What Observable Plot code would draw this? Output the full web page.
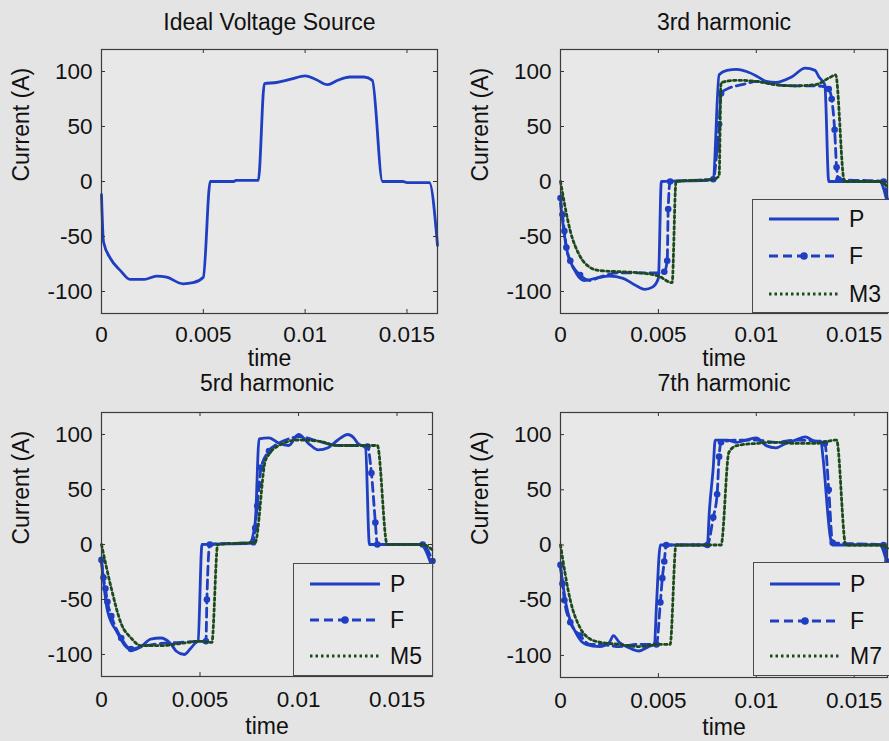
<!DOCTYPE html>
<html>
<head>
<meta charset="utf-8">
<script src="https://cdn.jsdelivr.net/npm/d3@7"></script>
<script src="https://cdn.jsdelivr.net/npm/@observablehq/plot@0.6"></script>
<style>
  html, body { margin: 0; padding: 0; background: #e4e4e4; }
  #fig { position: relative; width: 889px; height: 741px; overflow: hidden; background: #e4e4e4;
         font-family: "Liberation Sans", Arial, Helvetica, sans-serif; }
  .panel { position: absolute; }
  .legend { position: absolute; border: 1px solid #4a4a4a; background: #e8e8e8; box-sizing: border-box; }
  .legend .row { position: absolute; left: 0; height: 26px; }
  .legend .row span { position: absolute; font-size: 23px; color: #111; line-height: 26px; top: 0; }
</style>
</head>
<body>
<div id="fig"></div>
<script>
// ---------- tick labels ----------
const xTicks = [0, 0.005, 0.01, 0.015];
const yTicks = [-100, -50, 0, 50, 100];
const yDomain = [-120, 120];

// ---------- titles ----------
const titles = ["Ideal Voltage Source", "3rd harmonic", "5rd harmonic", "7th harmonic"];
const seriesNames = [["P", "F", "M3"], ["P", "F", "M5"], ["P", "F", "M7"]];

// ---------- data: [time, current] ----------
const ideal = [[0,-12],[0.0001,-55],[0.00044,-70],[0.00093,-81],[0.0014,-89],[0.0021,-89],[0.0027,-86],[0.0032,-87],[0.0040,-93],[0.0045,-92],[0.0050,-87],[0.00534,0],[0.0065,0],[0.0066,1],[0.0077,1],[0.0080,89],[0.0086,90],[0.0093,93],[0.0100,96],[0.0105,93],[0.0111,88],[0.0116,92],[0.0122,95],[0.0129,95],[0.0133,92],[0.0138,0],[0.0148,0],[0.0150,-1],[0.0161,-1],[0.0165,-58]];

const h3_P = [[0,-20],[0.0003,-60],[0.0007,-80],[0.0012,-90],[0.0018,-88],[0.0025,-86],[0.0032,-88],[0.0038,-94],[0.0043,-98],[0.0047,-96],[0.0050,-88],[0.00515,0],[0.0075,1],[0.0078,3],[0.0081,97],[0.0085,101],[0.009,102],[0.0095,100],[0.0100,96],[0.0105,91],[0.011,90],[0.0118,95],[0.0125,103],[0.013,101],[0.0132,95],[0.0135,88],[0.0137,0],[0.0163,0],[0.0167,-20]];
const h3_F = [[0,-15],[0.0001,-30],[0.0002,-45],[0.0003,-60],[0.0005,-72],[0.001,-85],[0.0015,-90],[0.002,-87],[0.003,-83],[0.004,-83],[0.005,-83],[0.0053,-82],[0.00545,-72],[0.0055,-25],[0.0056,0],[0.0078,2],[0.0080,30],[0.0081,52],[0.0082,80],[0.0085,84],[0.009,87],[0.0095,89],[0.01,91],[0.0105,90],[0.011,88],[0.012,87],[0.013,87],[0.0135,86],[0.0137,84],[0.01385,75],[0.0140,47],[0.0141,13],[0.0142,2],[0.0165,0],[0.0167,-18]];
const h3_M = [[0,0],[0.0005,-45],[0.001,-68],[0.0015,-78],[0.002,-81],[0.003,-82],[0.004,-83],[0.005,-86],[0.0057,-92],[0.0059,0],[0.0078,2],[0.0081,5],[0.0082,90],[0.009,92],[0.010,91],[0.011,88],[0.012,87],[0.013,88],[0.0138,95],[0.01405,97],[0.0145,0],[0.0163,0],[0.0167,-5]];

const h5_P = [[0,-15],[0.0003,-60],[0.0008,-80],[0.0012,-92],[0.0016,-96],[0.002,-93],[0.0025,-86],[0.003,-85],[0.0035,-90],[0.0038,-97],[0.0042,-100],[0.0045,-95],[0.0048,-89],[0.0049,-88],[0.0051,0],[0.0075,1],[0.0078,20],[0.0080,96],[0.0085,97],[0.009,92],[0.0095,90],[0.01,100],[0.0105,92],[0.011,86],[0.0115,88],[0.012,95],[0.0125,100],[0.0128,97],[0.013,92],[0.0134,88],[0.0136,0],[0.0162,0],[0.01677,-20]];
const h5_F = [[0,-14],[0.0001,-30],[0.0002,-40],[0.0003,-52],[0.0005,-65],[0.001,-85],[0.0015,-95],[0.002,-93],[0.003,-90],[0.004,-89],[0.005,-88],[0.0053,-88],[0.00535,-50],[0.0055,0],[0.0077,2],[0.0078,15],[0.0079,35],[0.008,54],[0.0081,70],[0.0085,85],[0.009,92],[0.0095,96],[0.01,98],[0.011,94],[0.012,90],[0.013,90],[0.0135,89],[0.0137,65],[0.0139,20],[0.014,0],[0.0163,0],[0.0168,-15]];
const h5_M = [[0,0],[0.0005,-40],[0.001,-72],[0.0015,-85],[0.002,-92],[0.003,-92],[0.004,-90],[0.005,-88],[0.0056,-89],[0.0059,0],[0.0078,2],[0.0083,75],[0.0085,82],[0.009,90],[0.01,95],[0.011,94],[0.012,90],[0.013,90],[0.014,90],[0.0145,0],[0.0163,0],[0.0168,-5]];

const h7_P = [[0,-20],[0.0003,-55],[0.0008,-80],[0.0013,-90],[0.002,-92],[0.0025,-88],[0.0027,-82],[0.003,-88],[0.0035,-93],[0.004,-96],[0.0045,-92],[0.0048,-90],[0.0049,-55],[0.0051,0],[0.0075,0],[0.0076,30],[0.0078,70],[0.0079,95],[0.0085,95],[0.009,93],[0.0095,95],[0.01,97],[0.0105,90],[0.011,88],[0.0115,92],[0.012,95],[0.0125,98],[0.013,94],[0.0133,94],[0.0134,80],[0.0138,5],[0.0139,0],[0.0163,0],[0.0167,-18]];
const h7_F = [[0,-18],[0.0001,-35],[0.0002,-50],[0.0005,-70],[0.001,-82],[0.0015,-90],[0.002,-90],[0.003,-92],[0.004,-90],[0.0049,-90],[0.0051,-52],[0.0052,-30],[0.0053,-15],[0.0054,0],[0.0075,0],[0.0078,25],[0.008,46],[0.0081,80],[0.0082,93],[0.009,95],[0.01,95],[0.011,93],[0.012,95],[0.013,94],[0.0135,92],[0.0137,50],[0.0139,2],[0.0165,0],[0.0167,-15]];
const h7_M = [[0,0],[0.0005,-50],[0.001,-75],[0.0015,-85],[0.002,-88],[0.003,-90],[0.004,-92],[0.005,-90],[0.0056,-90],[0.0059,0],[0.0082,0],[0.0086,84],[0.009,90],[0.01,92],[0.011,93],[0.012,92],[0.013,92],[0.0141,95],[0.01457,0],[0.0163,0],[0.0167,-3]];

// ---------- styles ----------
const BLUE = "#1f3fc2";
const GREEN = "#1d4a1d";
const FONT = "Liberation Sans, Arial, Helvetica, sans-serif";
const FS = 23;

// points of F shown with a dot marker (those on steep segments)
function steepDots(arr) {
  return arr.filter((d, i) => {
    const p = arr[i - 1], n = arr[i + 1];
    return (p && Math.abs(d[1] - p[1]) > 8) || (n && Math.abs(n[1] - d[1]) > 8);
  });
}

function panel(cfg) {
  const {title, P, F, M, xmax, left, top, width, height, mL, mR, mT, mB, titleDy, xlabDy, tickPad} = cfg;
  const curve = "monotone-x";
  const marks = [
    Plot.frame({fill: "#e8e8e8", stroke: "none"}),
    Plot.line(P, {x: d => d[0], y: d => d[1], stroke: BLUE, strokeWidth: 2.8, strokeLinejoin: "round", curve})
  ];
  if (F) {
    marks.push(Plot.line(F, {x: d => d[0], y: d => d[1], stroke: BLUE, strokeWidth: 2.8, strokeDasharray: "9,5", strokeLinejoin: "round", curve}));
    marks.push(Plot.dot(steepDots(F), {x: d => d[0], y: d => d[1], r: 3.3, fill: BLUE, stroke: "none"}));
  }
  if (M) {
    marks.push(Plot.line(M, {x: d => d[0], y: d => d[1], stroke: GREEN, strokeWidth: 2.8, strokeDasharray: "2.5,3", strokeLinejoin: "round", curve}));
  }
  const ph = height - mT - mB, pw = width - mL - mR, tl = 4;
  marks.push(
    Plot.ruleX(xTicks, {x: d => d, insetTop: ph - tl, stroke: "#333"}),
    Plot.ruleX(xTicks, {x: d => d, insetBottom: ph - tl, stroke: "#333"}),
    Plot.ruleY(yTicks, {y: d => d, insetRight: pw - tl, stroke: "#333"}),
    Plot.ruleY(yTicks, {y: d => d, insetLeft: pw - tl, stroke: "#333"}),
    Plot.frame({stroke: "#3c3c3c", strokeWidth: 1.2}),
    Plot.text([title], {text: d => d, frameAnchor: "top", dy: -titleDy, lineAnchor: "middle", fontSize: FS, fill: "#111"}),
    Plot.text(["time"], {text: d => d, frameAnchor: "bottom", dy: xlabDy, lineAnchor: "middle", fontSize: FS, fill: "#111"}),
    Plot.text(["Current (A)"], {text: d => d, frameAnchor: "left", dx: -80, rotate: -90, lineAnchor: "middle", fontSize: FS, fill: "#111"})
  );
  const svg = Plot.plot({
    width, height,
    marginLeft: mL, marginRight: mR, marginTop: mT, marginBottom: mB,
    style: {background: "transparent", fontFamily: FONT, fontSize: "22.5px", color: "#111", overflow: "visible"},
    x: {domain: [0, xmax], ticks: xTicks, tickFormat: d => String(d), tickSize: 0, tickPadding: tickPad, label: null},
    y: {domain: yDomain, ticks: yTicks, tickFormat: d => String(d), tickSize: 0, tickPadding: 9, label: null},
    marks
  });
  svg.classList.add("panel");
  svg.style.left = left + "px";
  svg.style.top = top + "px";
  return svg;
}

function legend(names, box) {
  const div = document.createElement("div");
  div.className = "legend";
  Object.assign(div.style, {left: box.left + "px", top: box.top + "px", width: box.width + "px", height: box.height + "px"});
  const styles = [
    {stroke: BLUE, dash: null, dot: false, w: 2.8},
    {stroke: BLUE, dash: "9,5", dot: true, w: 2.8},
    {stroke: GREEN, dash: "2.5,3", dot: false, w: 2.8}
  ];
  names.forEach((name, i) => {
    const row = document.createElement("div");
    row.className = "row";
    row.style.top = (box.rows[i] - box.top - 13) + "px";
    row.style.width = "100%";
    const s = styles[i];
    const L = box.lineW;
    row.innerHTML =
      `<svg width="${L + 4}" height="26" style="position:absolute;left:${box.lineX}px;top:0">
         <line x1="2" y1="13" x2="${L + 2}" y2="13" stroke="${s.stroke}" stroke-width="${s.w}" ${s.dash ? `stroke-dasharray="${s.dash}"` : ""}/>
         ${s.dot ? `<circle cx="${L / 2 + 2}" cy="13" r="3.8" fill="${s.stroke}"/>` : ""}
       </svg>
       <span style="left:${box.textX}px">${name}</span>`;
    div.appendChild(row);
  });
  return div;
}

const fig = document.getElementById("fig");
fig.appendChild(panel({title: titles[0], P: ideal, xmax: 0.0165, left: 0, top: 0, width: 445, height: 370,
  mL: 101, mR: 8, mT: 49, mB: 57, titleDy: 27, xlabDy: 45, tickPad: 13}));
fig.appendChild(panel({title: titles[1], P: h3_P, F: h3_F, M: h3_M, xmax: 0.0167, left: 445, top: 0, width: 444, height: 370,
  mL: 115, mR: 2, mT: 49, mB: 57, titleDy: 27, xlabDy: 45, tickPad: 13}));
fig.appendChild(panel({title: titles[2], P: h5_P, F: h5_F, M: h5_M, xmax: 0.0168, left: 0, top: 370, width: 445, height: 371,
  mL: 101, mR: 13, mT: 42, mB: 65, titleDy: 29, xlabDy: 50, tickPad: 15}));
fig.appendChild(panel({title: titles[3], P: h7_P, F: h7_F, M: h7_M, xmax: 0.0167, left: 445, top: 370, width: 444, height: 371,
  mL: 115, mR: 2, mT: 42, mB: 64, titleDy: 29, xlabDy: 50, tickPad: 15}));

fig.appendChild(legend(seriesNames[0], {left: 752, top: 199, width: 150, height: 114, rows: [218, 255, 293], lineX: 14, lineW: 70, textX: 96}));
fig.appendChild(legend(seriesNames[1], {left: 293, top: 563, width: 140, height: 113, rows: [583, 619, 655], lineX: 14, lineW: 70, textX: 96}));
fig.appendChild(legend(seriesNames[2], {left: 753, top: 562, width: 150, height: 114, rows: [583, 620, 655], lineX: 14, lineW: 70, textX: 96}));
</script>
</body>
</html>
